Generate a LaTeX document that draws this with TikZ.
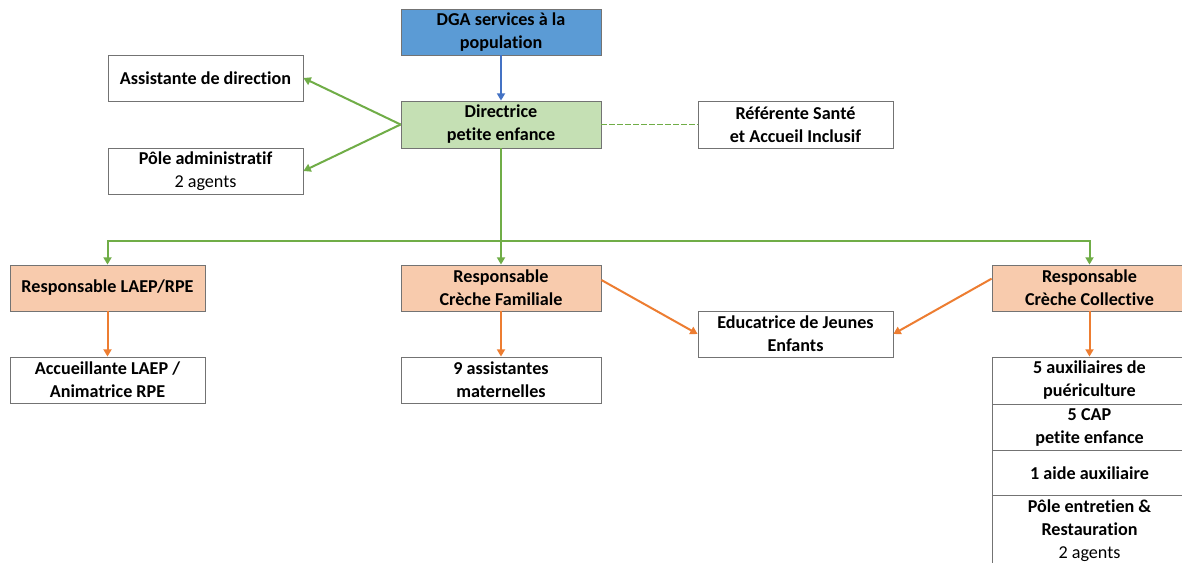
\documentclass[tikz,border=0pt]{standalone}
\usepackage{fontspec}
\setmainfont{Carlito}[Ligatures=NoCommon]
\usetikzlibrary{arrows.meta}
\definecolor{dgablue}{HTML}{5B9BD5}
\definecolor{dirgreen}{HTML}{C5E0B4}
\definecolor{resporange}{HTML}{F8CBAD}
\definecolor{linkblue}{HTML}{4472C4}
\definecolor{linkgreen}{HTML}{70AD47}
\definecolor{linkorange}{HTML}{ED7D31}
\newcommand{\widebox}{150pt}
\newcommand{\narrowbox}{146.25pt}
\newcommand{\boxh}{34.5pt}

\begin{document}
\begin{tikzpicture}[x=0.75pt, y=-0.75pt, font=\fontsize{13.6pt}{17.25pt}\selectfont\bfseries]
  \tikzset{unit/.style={draw=black!55, line width=0.6pt, fill=white, align=center, inner sep=0pt, minimum width=\narrowbox, minimum height=\boxh}}
  \tikzset{wide/.style={unit, minimum width=\widebox}}
  \tikzset{head/.style={fill=resporange}}
  \tikzset{link/.style={line width=1.5pt, -{Triangle[length=5.5pt, width=6pt]}}}
  \clip (0,0) rectangle (1182,562);
  \fill[white] (0,0) rectangle (1182,562);
  % top of the chart
  \node[wide, fill=dgablue] (dga) at (501,32) {DGA services \`a la\\population};
  \node[wide, fill=dirgreen, minimum height=35.25pt] (dir) at (501,124.5) {Directrice\\petite enfance};
  \node[unit, minimum height=35.25pt] (ref) at (795.5,124.5) {R\'ef\'erente Sant\'e\\et Accueil Inclusif};
  \node[unit] (asst) at (205.5,78) {Assistante de direction};
  \node[unit] (adm) at (205.5,171) {P\^ole administratif\\\mdseries 2 agents};
  % responsables
  \node[unit, head] (laep) at (107.5,288) {Responsable LAEP/RPE};
  \node[wide, head] (fam) at (501,288) {Responsable\\Cr\`eche Familiale};
  \node[unit, head] (coll) at (1089.5,288) {Responsable\\Cr\`eche Collective};
  % teams
  \node[unit] (accu) at (107.5,380) {Accueillante LAEP /\\Animatrice RPE};
  \node[wide] (assmat) at (501,380) {9 assistantes\\maternelles};
  \node[unit] (educ) at (795.5,334) {Educatrice de Jeunes\\Enfants};
  \node[unit, minimum height=35.25pt] (aux) at (1089.5,380.5) {5 auxiliaires de\\pu\'ericulture};
  \node[unit] (cap) at (1089.5,427) {5 CAP\\petite enfance};
  \node[unit] (aide) at (1089.5,473) {1 aide auxiliaire};
  \node[unit, minimum height=54pt] (entr) at (1089.5,531) {P\^ole entretien \&\\Restauration\\\mdseries 2 agents};
  \coordinate (bus) at (501,241);
  \draw[link, linkblue] (dga) -- (dir);
  \draw[link, linkgreen] (dir.west) -- (asst.east);
  \draw[link, linkgreen] (dir.west) -- (adm.east);
  \draw[linkgreen, line width=0.9pt, dash pattern=on 4pt off 2pt] (dir) -- (ref);
  \draw[link, linkgreen] (dir) -- (fam);
  \draw[link, linkgreen] (bus) -| (laep.north);
  \draw[link, linkgreen] (bus) -| (coll.north);
  \draw[link, linkorange] (laep) -- (accu);
  \draw[link, linkorange] (fam) -- (assmat);
  \draw[link, linkorange] ([yshift=6pt]fam.east) -- (educ.west);
  \draw[link, linkorange] ([yshift=7pt]coll.west) -- (educ.east);
  \draw[link, linkorange] (coll) -- (aux);
\end{tikzpicture}
\end{document}
